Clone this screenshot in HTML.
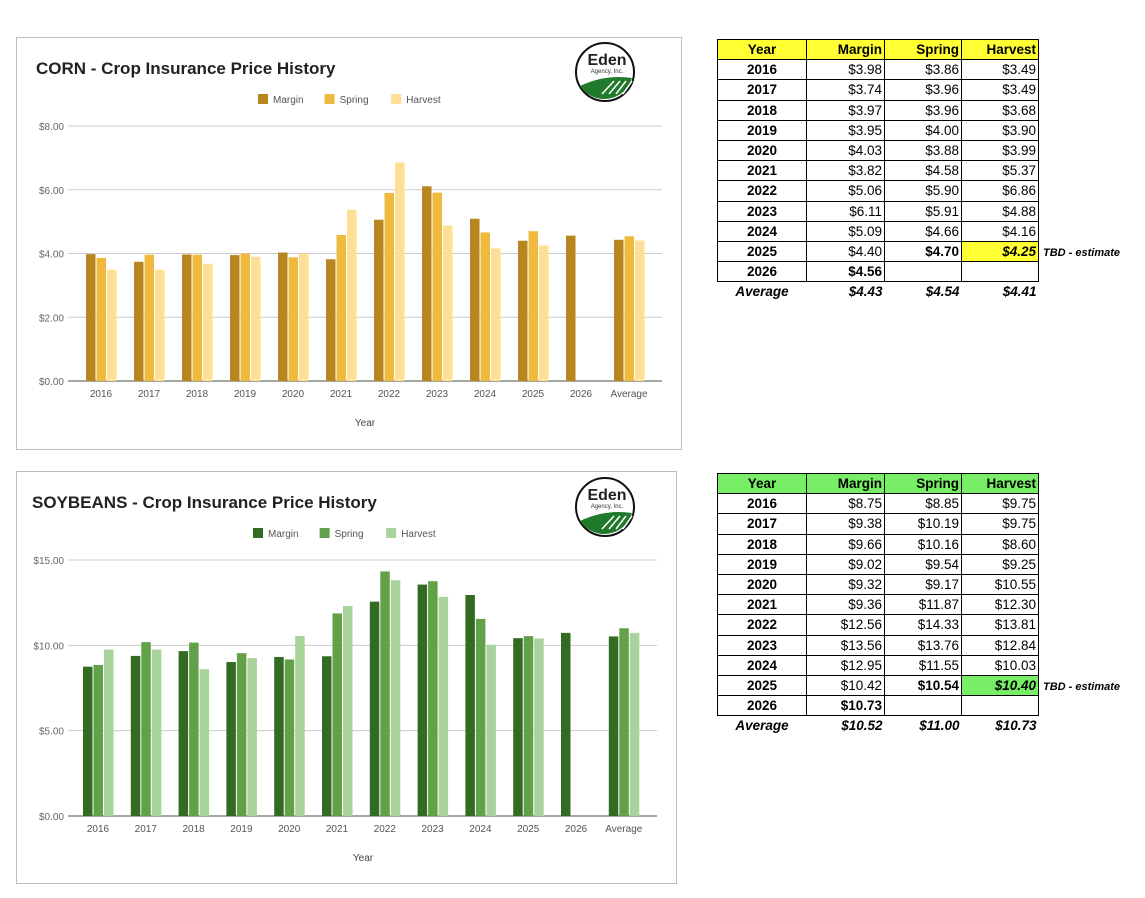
<!DOCTYPE html>
<html><head><meta charset="utf-8"><style>
body{margin:0;width:1145px;height:898px;background:#fff;font-family:"Liberation Sans",Arial,sans-serif;position:relative;overflow:hidden}
.box{position:absolute;border:1px solid #bdbdbd;background:#fff}
svg text{font-family:"Liberation Sans",Arial,sans-serif}
table{position:absolute;border-collapse:collapse;font-size:13.5px}
td{height:19.2px;padding:0 2px;border:1px solid #000;text-align:right;white-space:nowrap}
td:first-child{text-align:center;font-weight:bold}
tr.h td{font-weight:bold}
tr.avg td{border:none;font-weight:bold;font-style:italic}
.note{position:absolute;font-size:11px;font-weight:bold;font-style:italic}
</style></head><body>
<div class="box" style="left:16px;top:37px;width:664px;height:411px"></div>
<div class="box" style="left:16px;top:471px;width:659px;height:411px"></div>
<svg id="svg" width="1145" height="898" style="position:absolute;left:0;top:0"></svg>

<table style="left:717px;top:39px;width:322px">
<colgroup><col style="width:89px"><col style="width:78px"><col style="width:77px"><col style="width:77px"></colgroup>
<tr class="h" style="background:#ffff33"><td>Year</td><td>Margin</td><td>Spring</td><td>Harvest</td></tr>
<tr><td>2016</td><td>$3.98</td><td>$3.86</td><td>$3.49</td></tr>
<tr><td>2017</td><td>$3.74</td><td>$3.96</td><td>$3.49</td></tr>
<tr><td>2018</td><td>$3.97</td><td>$3.96</td><td>$3.68</td></tr>
<tr><td>2019</td><td>$3.95</td><td>$4.00</td><td>$3.90</td></tr>
<tr><td>2020</td><td>$4.03</td><td>$3.88</td><td>$3.99</td></tr>
<tr><td>2021</td><td>$3.82</td><td>$4.58</td><td>$5.37</td></tr>
<tr><td>2022</td><td>$5.06</td><td>$5.90</td><td>$6.86</td></tr>
<tr><td>2023</td><td>$6.11</td><td>$5.91</td><td>$4.88</td></tr>
<tr><td>2024</td><td>$5.09</td><td>$4.66</td><td>$4.16</td></tr>
<tr><td>2025</td><td>$4.40</td><td style="font-weight:bold">$4.70</td><td style="font-weight:bold;font-style:italic;background:#ffff33">$4.25</td></tr>
<tr><td>2026</td><td style="font-weight:bold">$4.56</td><td></td><td></td></tr>
<tr class="avg"><td>Average</td><td>$4.43</td><td>$4.54</td><td>$4.41</td></tr>
</table>
<div class="note" style="left:1043px;top:247px">TBD - estimate</div>

<table style="left:717px;top:473px;width:322px">
<colgroup><col style="width:89px"><col style="width:78px"><col style="width:77px"><col style="width:77px"></colgroup>
<tr class="h" style="background:#77ee66"><td>Year</td><td>Margin</td><td>Spring</td><td>Harvest</td></tr>
<tr><td>2016</td><td>$8.75</td><td>$8.85</td><td>$9.75</td></tr>
<tr><td>2017</td><td>$9.38</td><td>$10.19</td><td>$9.75</td></tr>
<tr><td>2018</td><td>$9.66</td><td>$10.16</td><td>$8.60</td></tr>
<tr><td>2019</td><td>$9.02</td><td>$9.54</td><td>$9.25</td></tr>
<tr><td>2020</td><td>$9.32</td><td>$9.17</td><td>$10.55</td></tr>
<tr><td>2021</td><td>$9.36</td><td>$11.87</td><td>$12.30</td></tr>
<tr><td>2022</td><td>$12.56</td><td>$14.33</td><td>$13.81</td></tr>
<tr><td>2023</td><td>$13.56</td><td>$13.76</td><td>$12.84</td></tr>
<tr><td>2024</td><td>$12.95</td><td>$11.55</td><td>$10.03</td></tr>
<tr><td>2025</td><td>$10.42</td><td style="font-weight:bold">$10.54</td><td style="font-weight:bold;font-style:italic;background:#77ee66">$10.40</td></tr>
<tr><td>2026</td><td style="font-weight:bold">$10.73</td><td></td><td></td></tr>
<tr class="avg"><td>Average</td><td>$10.52</td><td>$11.00</td><td>$10.73</td></tr>
</table>
<div class="note" style="left:1043px;top:681px">TBD - estimate</div>

<script>
const categories=["2016","2017","2018","2019","2020","2021","2022","2023","2024","2025","2026","Average"];
const cornMargin=[3.98,3.74,3.97,3.95,4.03,3.82,5.06,6.11,5.09,4.40,4.56,4.43];
const cornSpring=[3.86,3.96,3.96,4.00,3.88,4.58,5.90,5.91,4.66,4.70,null,4.54];
const cornHarvest=[3.49,3.49,3.68,3.90,3.99,5.37,6.86,4.88,4.16,4.25,null,4.41];
const cornTicks=[0,2,4,6,8];
const soyMargin=[8.75,9.38,9.66,9.02,9.32,9.36,12.56,13.56,12.95,10.42,10.73,10.52];
const soySpring=[8.85,10.19,10.16,9.54,9.17,11.87,14.33,13.76,11.55,10.54,null,11.00];
const soyHarvest=[9.75,9.75,8.60,9.25,10.55,12.30,13.81,12.84,10.03,10.40,null,10.73];
const soyTicks=[0,5,10,15];

const svg=document.getElementById('svg');const NS='http://www.w3.org/2000/svg';
function mk(t,a,txt){const e=document.createElementNS(NS,t);for(const k in a)e.setAttribute(k,a[k]);if(txt!=null)e.textContent=txt;svg.appendChild(e);return e;}
function chart(o){
  const y=v=>o.base-(v/o.max)*(o.base-o.top);
  const x=i=>o.x0+i*o.step;
  let t=mk('text',{x:o.left+20,y:o.titleY,'font-size':17,'font-weight':'bold',fill:'#222'},o.title);
  
  o.ticks.forEach(v=>{
    const g=mk('line',{x1:o.plotL,x2:o.plotR,y1:y(v),y2:y(v),stroke:v===0?'#888':'#ccc','stroke-width':v===0?1.5:1});
    
    const l=mk('text',{x:o.plotL-4,y:y(v)+4,'font-size':10,fill:'#666','text-anchor':'end'},'$'+v.toFixed(2));
    
  });
  const series=[o.s1,o.s2,o.s3];const names=['Margin','Spring','Harvest'];
  categories.forEach((c,i)=>{
    series.forEach((s,j)=>{
      if(s[i]==null)return;
      const r=mk('rect',{x:x(i)-15+j*10.5,y:y(s[i]),width:9.5,height:o.base-y(s[i]),fill:o.colors[j]});
      
      
    });
    const l=mk('text',{x:x(i),y:o.base+16,'font-size':10,fill:'#555','text-anchor':'middle'},c);
    
  });
  const at=mk('text',{x:o.axisTitleX,y:o.base+45,'font-size':10,fill:'#444','text-anchor':'middle'},'Year');
  
  let lx=o.legendX;
  names.forEach((n,j)=>{
    const r=mk('rect',{x:lx,y:o.legendY-9,width:10,height:10,fill:o.colors[j]});
    
    const tt=mk('text',{x:lx+15,y:o.legendY,'font-size':10,fill:'#555'},n);
    
    lx+=15+n.length*5.6+18;
  });
  const cx=o.logoX,cy=o.logoY;
  let c1=mk('circle',{cx:cx,cy:cy,r:29,fill:'#fff',stroke:'#111','stroke-width':2});
  
  mk('path',{d:`M${cx-25} ${cy+14} Q${cx} ${cy+2} ${cx+27} ${cy+6} A29 29 0 0 1 ${cx-25} ${cy+14}Z`,fill:'#1f7a2c'});
  for(let k=0;k<4;k++)mk('line',{x1:cx-3+k*7,y1:cy+22,x2:cx+9+k*6,y2:cy+9,stroke:'#fff','stroke-width':1.5});
  let e=mk('text',{x:cx+2,y:cy-7,'font-size':16,'font-weight':'bold','font-family':'Liberation Serif',fill:'#222','text-anchor':'middle'},'Eden');
  
  mk('text',{x:cx+2,y:cy+1,'font-size':6,fill:'#333','text-anchor':'middle'},'Agency, Inc.');
}
chart({key:'corn',title:'CORN - Crop Insurance Price History',left:16,titleY:74,s1:cornMargin,s2:cornSpring,s3:cornHarvest,
 colors:['#b8861e','#eeb93c','#fde096'],max:8,ticks:cornTicks,base:381,top:126,plotL:68,plotR:662,x0:101,step:48,
 axisTitleX:365,legendX:258,legendY:103,logoX:605,logoY:72});
chart({key:'soy',title:'SOYBEANS - Crop Insurance Price History',left:12,titleY:508,s1:soyMargin,s2:soySpring,s3:soyHarvest,
 colors:['#336b22','#62a04a','#a8d39a'],max:15,ticks:soyTicks,base:816,top:560,plotL:68,plotR:657,x0:98,step:47.8,
 axisTitleX:363,legendX:253,legendY:537,logoX:605,logoY:507});
</script>
</body></html>
